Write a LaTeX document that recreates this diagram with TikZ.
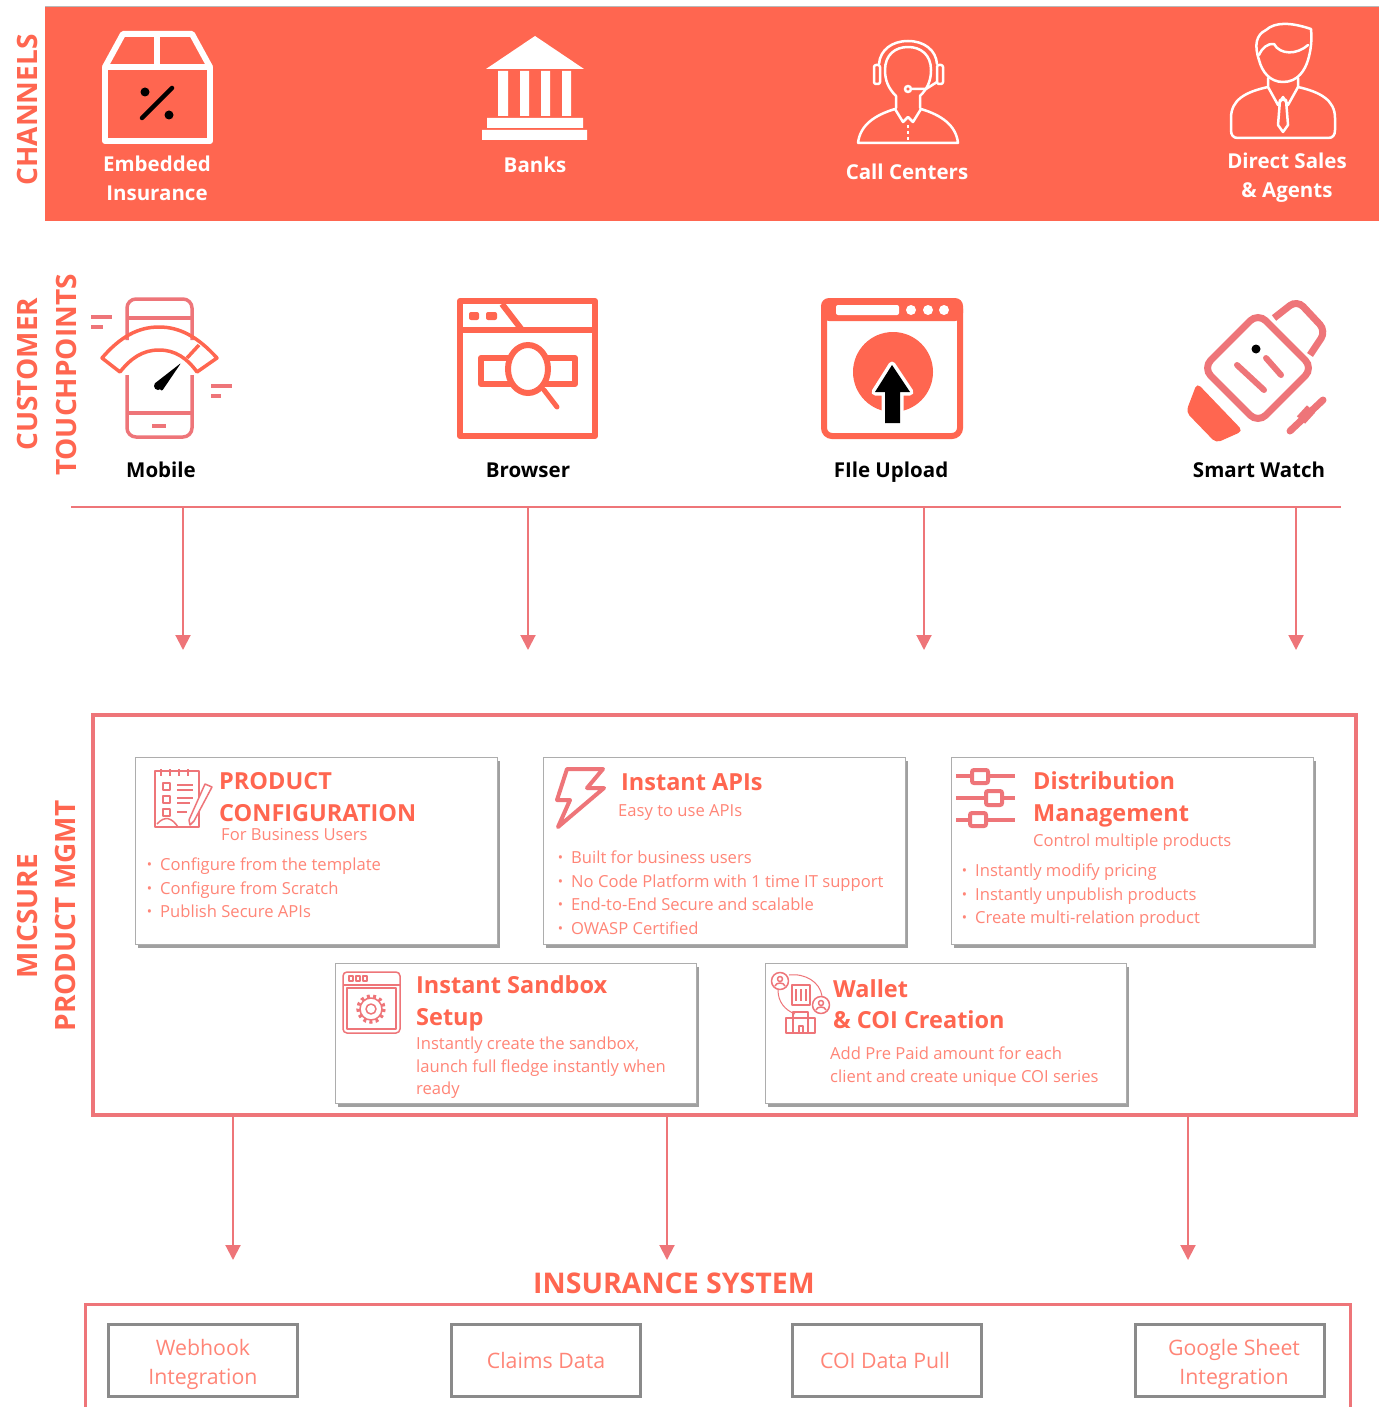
\documentclass[tikz,border=0pt]{standalone}
\usepackage{fontspec}
\setmainfont{Open Sans}
\usetikzlibrary{arrows.meta,shadows}
\definecolor{coral}{HTML}{FF6650}
\definecolor{rose}{HTML}{EE7579}
\definecolor{soft}{HTML}{FF8577}
\definecolor{edge}{HTML}{8A8A8A}
\newcommand{\bul}{\llap{\raisebox{1pt}{\fontsize{14}{14}\selectfont•}\hspace{8pt}}}
\newcommand{\lift}{\rule{0pt}{25pt}}
\begin{document}
\begin{tikzpicture}[x=1pt,y=-1pt]
\tikzstyle{sidelabel}=[rotate=90,text=coral,font=\fontsize{28}{29}\selectfont\bfseries,inner sep=0pt]
\tikzstyle{whitelabel}=[text=white,align=center,font=\fontsize{20.5}{29}\selectfont\bfseries,inner sep=0pt]
\tikzstyle{blacklabel}=[text=black,text height=19pt,text depth=5pt,font=\fontsize{20.5}{29}\selectfont\bfseries,inner sep=0pt]
\tikzstyle{card}=[draw=edge!70,fill=white,line width=1pt,inner sep=0pt,drop shadow={opacity=0.75,shadow xshift=2.5pt,shadow yshift=-3.5pt}]
\tikzstyle{title}=[anchor=west,text=coral,text height=22pt,text depth=6pt,font=\fontsize{23.5}{30}\selectfont\bfseries,inner sep=0pt]
\tikzstyle{item}=[anchor=west,text=soft,text height=16pt,text depth=4pt,font=\fontsize{16.6}{22}\selectfont,inner sep=0pt]
\tikzstyle{sysbox}=[draw=edge,line width=3pt,minimum width=189pt,minimum height=72pt,inner sep=0pt,text=soft,align=center,font=\fontsize{21.3}{28.5}\selectfont]
\tikzstyle{flow}=[draw=rose,line width=2pt,-{Triangle[width=15pt,length=15pt]}]
\tikzstyle{whiteicon}=[draw=white,line width=2.5pt,line join=round,line cap=round]
\tikzstyle{smallicon}=[draw=rose,line width=1.5pt,line join=round]
\useasboundingbox (0,0) rectangle (1381,1407);

\fill[coral] (45,7) rectangle (1379,221);
\draw[edge!60,line width=1pt] (45,7) -- (1379,7);
\path (27,110) node[sidelabel](channels){CHANNELS};
\path (27,374) node[sidelabel](customer){CUSTOMER};
\path (66,375) node[sidelabel](touchpoints){TOUCHPOINTS};
\path (27,916) node[sidelabel](micsure){MICSURE};
\path (65,916) node[sidelabel](productmgmt){PRODUCT MGMT};

\draw[white,line width=6pt,line join=round] (105,67) rectangle (210,141);
\draw[white,line width=6pt,line join=round] (105,67) -- (123,34) -- (192,34) -- (210,67);
\draw[white,line width=6pt] (157,34) -- (157,67);
\draw[black,line width=4.5pt,line cap=round] (142,118) -- (172,88);
\fill[black] (145,92) circle (4.5) (169,115) circle (4.5);
\path (157,178.5) node[whitelabel](embedded){Embedded\\Insurance};

\fill[white] (535,36) -- (584,69) -- (486,69) -- cycle;
\fill[white] (498,71) rectangle (508,116) (520,71) rectangle (529,116);
\fill[white] (541,71) rectangle (550,116) (562,71) rectangle (571,116);
\fill[white] (487,118) rectangle (583,128) (482,130) rectangle (587,140);
\path (535,165) node[whitelabel](banks){Banks};

\draw[whiteicon] (896,108) -- (896,96) .. controls (888,88) and (885,80) .. (885,70) .. controls (885,55) and (895,47) .. (908,47) .. controls (921,47) and (931,55) .. (931,70) .. controls (931,80) and (928,88) .. (920,96) -- (920,108);
\draw[whiteicon] (879,64) .. controls (880,50) and (892,41) .. (908,41) .. controls (924,41) and (936,50) .. (937,64);
\draw[whiteicon,rounded corners=2pt] (874,65) rectangle (880,84) (937,65) rectangle (943,84);
\draw[whiteicon] (908,89) circle (3) (911,89) -- (926,89) -- (937,82);
\draw[whiteicon] (858,143) -- (958,143) (858,143) .. controls (860,125) and (875,115) .. (895,109) -- (903,122) -- (908,117) -- (913,122) -- (921,109) .. controls (941,115) and (956,125) .. (958,143);
\draw[white,line width=1.5pt,dashed] (908,125) -- (908,143);
\path (907,172) node[whitelabel](callcenters){Call Centers};

\draw[whiteicon] (1259,60) .. controls (1254,45) and (1256,35) .. (1266,30) .. controls (1275,22) and (1290,22) .. (1311,29) .. controls (1312,40) and (1311,50) .. (1308,60) .. controls (1305,70) and (1298,82) .. (1283,82) .. controls (1270,82) and (1262,72) .. (1259,60) -- cycle;
\draw[whiteicon] (1259,55) .. controls (1262,48) and (1268,43) .. (1274,44) .. controls (1280,55) and (1297,55) .. (1308,45);
\draw[whiteicon] (1268,87) .. controls (1245,92) and (1231,100) .. (1231,118) -- (1231,130) .. controls (1231,135) and (1233,138) .. (1238,138) -- (1328,138) .. controls (1333,138) and (1335,135) .. (1335,130) -- (1335,118) .. controls (1335,100) and (1320,92) .. (1298,87);
\draw[whiteicon] (1268,78) -- (1268,87) -- (1278,105) -- (1283,97) -- (1288,105) -- (1298,87) -- (1298,78);
\draw[whiteicon] (1280,100) -- (1286,100) -- (1288,125) -- (1283,132) -- (1278,125) -- cycle;
\path (1287,178) node[whitelabel](directsales){Direct Sales\\\& Agents};

\draw[rose,line width=3.5pt,rounded corners=9pt] (127,340) -- (127,299) -- (192,299) -- (192,340);
\draw[rose,line width=3.5pt] (127,318) -- (192,318);
\draw[rose,line width=3.5pt,rounded corners=9pt] (127,375) -- (127,437) -- (192,437) -- (192,375);
\draw[rose,line width=3.5pt] (127,413) -- (192,413);
\draw[rose,line width=3.5pt] (152,426) -- (166,426);
\draw[coral,line width=3.5pt,line join=round] (102,358) .. controls (120,337) and (138,327) .. (159,327) .. controls (180,327) and (198,337) .. (217,358) -- (197,372) .. controls (187,358) and (175,350) .. (159,350) .. controls (143,350) and (131,358) .. (120,372) -- cycle;
\draw[coral,line width=3.5pt] (199,345) -- (187,358);
\fill[black,rounded corners=1pt] (181,363) -- (162,391) -- (154,384) -- cycle;
\fill[black] (158,386) circle (4);
\draw[rose,line width=4pt] (91,317) -- (112,317) (91,327) -- (103,327);
\draw[rose,line width=4pt] (211,386) -- (232,386) (211,396) -- (221,396);
\path (161,470) node[blacklabel](mobile){Mobile};

\draw[coral,line width=6pt,line join=round] (460,301) rectangle (595,436);
\draw[coral,line width=6pt] (460,330) -- (595,330);
\draw[coral,line width=6pt] (502,304) -- (522,330);
\fill[coral,rounded corners=2pt] (469,312) rectangle (479,320) (486,312) rectangle (497,320);
\draw[coral,line width=6pt,line join=round] (481,358) rectangle (575,384);
\draw[coral,line width=6pt,fill=white] (528,369) ellipse (20 and 24);
\draw[coral,line width=5pt,line cap=round] (544,390) -- (557,407);
\path (528,470) node[blacklabel](browser){Browser};

\draw[coral,line width=6pt,rounded corners=8pt] (824,301) rectangle (960,436);
\fill[coral,rounded corners=8pt] (821,298) rectangle (963,321);
\fill[white,rounded corners=2pt] (836,305) rectangle (899,315);
\fill[white] (911,310) circle (5) (928,310) circle (5) (944,310) circle (5);
\fill[coral] (893,372) circle (40);
\draw[white,line width=7pt,line join=round,fill=black] (892,365) -- (910,392) -- (900,392) -- (900,423) -- (885,423) -- (885,392) -- (875,392) -- cycle;
\fill[black] (892,365) -- (910,392) -- (900,392) -- (900,423) -- (885,423) -- (885,392) -- (875,392) -- cycle;
\path (891,470) node[blacklabel](fileupload){FIle Upload};

\draw[rose,line width=7pt,rounded corners=11pt] (1203,368) -- (1258,313) -- (1313,368) -- (1258,423) -- cycle;
\draw[rose,line width=7pt,rounded corners=9pt] (1274,318) -- (1297,300) -- (1326,331) -- (1310,355);
\fill[coral,rounded corners=5pt] (1197,383) -- (1243,431) -- (1216,443) -- (1186,412) -- cycle;
\draw[rose,line width=6pt,line cap=round] (1237,365) -- (1264,390) (1266,358) -- (1281,375);
\fill[black] (1256,349) circle (4.5);
\draw[rose,line width=7pt,line cap=round] (1290,431) -- (1323,400);
\draw[rose,line width=11pt] (1301,420) -- (1311,409);
\path (1259,470) node[blacklabel](smartwatch){Smart Watch};

\coordinate (busL) at (71,507);
\coordinate (busR) at (1341,507);
\coordinate (in1) at (183,650);
\coordinate (in2) at (528,650);
\coordinate (in3) at (924,650);
\coordinate (in4) at (1296,650);
\draw[rose,line width=2pt] (busL) -- (busR);
\draw[flow] (in1 |- busL) -- (in1);
\draw[flow] (in2 |- busL) -- (in2);
\draw[flow] (in3 |- busL) -- (in3);
\draw[flow] (in4 |- busL) -- (in4);

\path (724.5,915) node[draw=rose,line width=3.5pt,minimum width=1263pt,minimum height=400pt,inner sep=0pt](mgmt){};

\path (316,851) node[card,minimum width=362pt,minimum height=187pt](config){};
\path (724,851) node[card,minimum width=362pt,minimum height=187pt](apis){};
\path (1132,851) node[card,minimum width=362pt,minimum height=187pt](distribution){};
\path (515.5,1033) node[card,minimum width=361pt,minimum height=140pt](sandbox){};
\path (945.5,1033) node[card,minimum width=361pt,minimum height=140pt](wallet){};

\draw[smallicon] (155,771) rectangle (199,827);
\draw[smallicon] (161,769) -- (161,776) (170,769) -- (170,776) (179,769) -- (179,776) (188,769) -- (188,776);
\draw[smallicon] (163,783) rectangle (170,790) (163,796) rectangle (170,803) (163,809) rectangle (170,816);
\draw[smallicon] (177,785) -- (193,785) (177,790) -- (193,790) (177,798) -- (193,798) (177,803) -- (190,803) (177,812) -- (187,812);
\draw[smallicon,fill=white] (189,820) -- (205,784) -- (212,787) -- (194,821) -- (190,825) -- cycle;
\draw[smallicon] (157,824) .. controls (165,815) and (172,818) .. (178,827);
\path (219,781) node[title](prodA){PRODUCT};
\path (219,813) node[title](prodB){CONFIGURATION};
\path (221,834) node[item](prodC){For Business Users};
\path (160,864) node[item](prodD){\bul Configure from the template};
\path (160,888) node[item](prodE){\bul Configure from Scratch};
\path (160,911) node[item](prodF){\bul Publish Secure APIs};

\draw[rose,line width=4pt,line join=round] (567,769) -- (603,769) -- (587,788) -- (604,788) -- (558,827) -- (570,800) -- (557,800) -- cycle;
\path (621,782) node[title](apiA){Instant APIs};
\path (618,810) node[item](apiB){Easy to use APIs};
\path (571,857) node[item](apiC){\bul Built for business users};
\path (571,881) node[item](apiD){\bul No Code Platform with 1 time IT support};
\path (571,904) node[item](apiE){\bul End-to-End Secure and scalable};
\path (571,928) node[item](apiF){\bul OWASP Certified};

\draw[rose,line width=4pt] (956,776) -- (1015,776) (956,798) -- (1015,798) (956,820) -- (1015,820);
\draw[rose,line width=4pt,fill=white,rounded corners=2pt] (972,770) rectangle (988,783) (986,791) rectangle (1002,805) (970,813) rectangle (986,826);
\path (1033,781) node[title](distA){Distribution};
\path (1033,813) node[title](distB){Management};
\path (1033,840) node[item](distC){Control multiple products};
\path (975,870) node[item](distD){\bul Instantly modify pricing};
\path (975,894) node[item](distE){\bul Instantly unpublish products};
\path (975,917) node[item](distF){\bul Create multi-relation product};

\draw[smallicon,rounded corners=4pt] (343,972) rectangle (400,1033);
\draw[smallicon] (343,985) -- (400,985);
\draw[smallicon] (347,988) rectangle (396,1029);
\draw[smallicon] (349,976) rectangle (353,981) (356,976) rectangle (360,981) (363,976) rectangle (367,981);
\draw[smallicon] (371,1009) circle (11);
\draw[rose,line width=3.5pt,dash pattern=on 3pt off 3.3pt] (371,1009) circle (13);
\draw[smallicon] (371,1009) circle (5);
\path (416,985) node[title](boxA){Instant Sandbox};
\path (416,1017) node[title](boxB){Setup};
\path (416,1043) node[item](boxC){Instantly create the sandbox,};
\path (416,1066) node[item](boxD){launch full fledge instantly when};
\path (416,1088) node[item](boxE){ready};

\draw[smallicon] (780,981) circle (8.5) (821,1005) circle (8.5);
\draw[smallicon] (780,979) circle (2.5) (821,1003) circle (2.5);
\draw[smallicon] (775,986) .. controls (776,982) and (784,982) .. (785,986) (816,1010) .. controls (817,1006) and (825,1006) .. (826,1010);
\draw[smallicon] (792,985) rectangle (810,1005);
\draw[smallicon] (796,989) -- (796,1001) (801,989) -- (801,1001) (806,989) -- (806,1001);
\draw[rose,line width=1pt] (789,975) .. controls (805,973) and (820,982) .. (822,996);
\draw[rose,line width=1pt] (778,990) .. controls (778,1002) and (785,1010) .. (795,1014);
\draw[smallicon] (786,1033) rectangle (815,1018) (793,1033) rectangle (808,1012);
\draw[smallicon] (799,1033) rectangle (803,1026);
\path (833,989) node[title](walA){Wallet};
\path (833,1020) node[title](walB){\& COI Creation};
\path (830,1053) node[item](walC){Add Pre Paid amount for each};
\path (830,1076) node[item](walD){client and create unique COI series};

\coordinate (out1) at (233,1260);
\coordinate (out2) at (667,1260);
\coordinate (out3) at (1188,1260);
\draw[flow] (out1 |- mgmt.south) -- (out1);
\draw[flow] (out2 |- mgmt.south) -- (out2);
\draw[flow] (out3 |- mgmt.south) -- (out3);

\path (674,1283.5) node[text=coral,font=\fontsize{28.5}{28}\selectfont\bfseries,inner sep=0pt](system){INSURANCE SYSTEM};
\coordinate (sysA) at (85,1407);
\coordinate (sysB) at (85,1304);
\coordinate (sysC) at (1350,1304);
\coordinate (sysD) at (1350,1407);
\draw[rose,line width=3pt] (sysA) -- (sysB) -- (sysC) -- (sysD);
\path (203,1360) node[sysbox](webhook){\lift Webhook\\Integration};
\path (546,1360) node[sysbox](claims){Claims Data};
\path (887,1360) node[sysbox](coipull){\hspace*{-4pt}COI Data Pull};
\path (1229.5,1360) node[sysbox](sheet){\lift\hspace*{9pt}Google Sheet\\\hspace*{9pt}Integration};
\end{tikzpicture}
\end{document}
